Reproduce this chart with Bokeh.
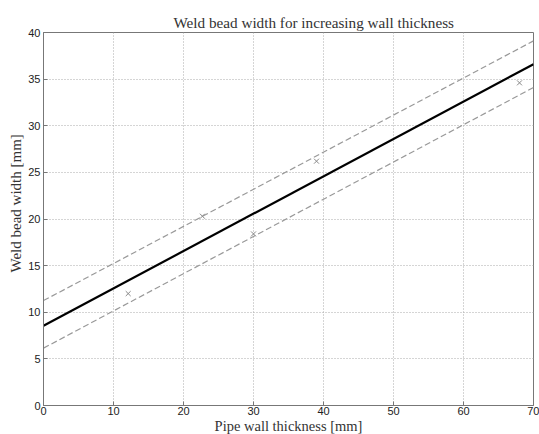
from bokeh.plotting import figure
from bokeh.embed import file_html
from bokeh.resources import INLINE
from bokeh.models import FixedTicker, Title

# data
meas_x = [12.1, 22.7, 30.0, 39.0, 68.0]
meas_y = [12.0, 20.3, 18.4, 26.2, 34.6]
fit_x = [0, 70]
fit_y = [8.55, 36.6]
upper_y = [11.25, 39.1]
lower_y = [6.15, 34.1]
x_ticks = [0, 10, 20, 30, 40, 50, 60, 70]
y_ticks = [0, 5, 10, 15, 20, 25, 30, 35, 40]

p = figure(frame_width=490, frame_height=373, x_range=(0, 70), y_range=(0, 40),
           output_backend="svg", toolbar_location=None,
           min_border_left=43, min_border_right=6, min_border_top=32, min_border_bottom=28,
           title="Weld bead width for increasing wall thickness")

p.title.align = "left"
p.title.offset = 130
p.title.text_font = "Liberation Serif"
p.title.text_font_size = "15.2px"
p.title.text_font_style = "normal"
p.title.text_color = "#333333"
p.title.standoff = 4

p.outline_line_color = "#777777"
p.outline_line_width = 1

for ax in (p.xaxis, p.yaxis):
    ax.axis_line_color = "#777777"
    ax.major_tick_line_color = "#777777"
    ax.major_tick_in = 4
    ax.major_tick_out = 0
    ax.minor_tick_line_color = None
    ax.major_label_text_font = "Liberation Sans"
    ax.major_label_text_font_size = "11px"
    ax.major_label_text_color = "#222222"
    ax.axis_label_text_font = "Liberation Serif"
    ax.axis_label_text_font_size = "14.5px"
    ax.axis_label_text_font_style = "normal"
    ax.axis_label_text_color = "#333333"
    ax.major_label_standoff = 3
    ax.axis_label_standoff = 0

p.xaxis.ticker = FixedTicker(ticks=x_ticks)
p.yaxis.ticker = FixedTicker(ticks=y_ticks)
p.xaxis.axis_label = "Pipe wall thickness [mm]"
p.xaxis.major_label_standoff = 1

ytitle = Title(text="Weld bead width [mm]", align="left", offset=133,
               text_font="Liberation Serif", text_font_size="15px",
               text_font_style="normal", text_color="#333333", standoff=4)
p.add_layout(ytitle, "left")

p.grid.grid_line_color = "#aaaaaa"
p.grid.grid_line_dash = "1 2"
p.grid.grid_line_width = 1

p.line(fit_x, upper_y, line_color="#999999", line_dash="6 3", line_width=1.2)
p.line(fit_x, lower_y, line_color="#999999", line_dash="6 3", line_width=1.2)
p.line(fit_x, fit_y, line_color="black", line_width=2.2)
p.scatter(meas_x, meas_y, marker="x", size=7, line_color="#888888", line_width=1)

open("out.html", "w").write(file_html(p, INLINE))
